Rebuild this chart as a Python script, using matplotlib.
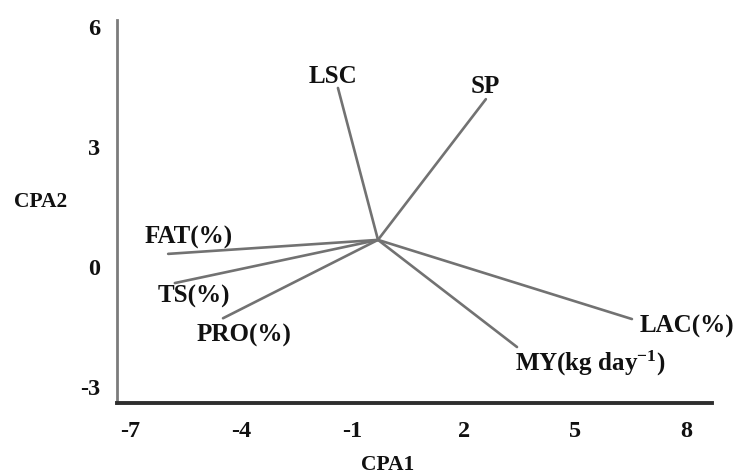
import matplotlib
matplotlib.use("Agg")
import matplotlib.pyplot as plt

# ---- data ----
variables = ["LSC", "SP", "FAT(%)", "TS(%)", "PRO(%)", "LAC(%)", "MY(kg day$^{\\mathrm{-1}}$)"]
cpa1_tip = [-1.39, 2.60, -5.97, -5.79, -4.49, 6.54, 3.44]
cpa2_tip = [4.48, 4.20, 0.33, -0.40, -1.28, -1.30, -2.00]
origin_cpa1 = -0.31
origin_cpa2 = 0.68
x_ticks = [-7, -4, -1, 2, 5, 8]
y_ticks = [-3, 0, 3, 6]

# ---- style / layout ----
plt.rcParams["font.family"] = ["Liberation Serif", "DejaVu Serif"]
plt.rcParams["font.weight"] = "bold"
plt.rcParams["mathtext.fontset"] = "custom"
plt.rcParams["mathtext.rm"] = "Liberation Serif:bold"
plt.rcParams["mathtext.it"] = "Liberation Serif:bold"
plt.rcParams["mathtext.bf"] = "Liberation Serif:bold"

fig = plt.figure(figsize=(7.38, 4.75), dpi=100)
ax = fig.add_axes([117 / 738, 1 - 403 / 475, 595 / 738, 383 / 475])

line_color = "#727272"
for xt, yt in zip(cpa1_tip, cpa2_tip):
    ax.plot([origin_cpa1, xt], [origin_cpa2, yt], color=line_color, lw=1.9,
            solid_capstyle="round")

# label offsets in points relative to tip (layout only)
offsets = [(-3.5, 8.5, "center"), (-0.5, 9, "center"), (14.5, 11.5, "center"),
           (13.5, -10, "center"), (15, -12.5, "center"), (5.5, -5, "left"),
           (-1.5, -11.5, "left")]
for name, xt, yt, (dx, dy, ha) in zip(variables, cpa1_tip, cpa2_tip, offsets):
    ax.annotate(name, (xt, yt), xytext=(dx, dy), textcoords="offset points",
                ha=ha, va="center", fontsize=18, fontweight="bold", color="#111111")

ax.set_xlim(-7.35, 8.70)
ax.set_ylim(-3.40, 6.18)
ax.set_xticks(x_ticks)
ax.set_yticks(y_ticks)
ax.set_xticklabels([str(v) for v in x_ticks])
ax.set_yticklabels([str(v) for v in y_ticks])
ax.tick_params(axis="both", length=0, labelsize=17.5, colors="#111111")
ax.tick_params(axis="x", pad=13)
ax.tick_params(axis="y", pad=12)
for lab in ax.get_xticklabels() + ax.get_yticklabels():
    lab.set_fontweight("bold")

for s in ["top", "right"]:
    ax.spines[s].set_visible(False)
ax.spines["left"].set_color("#7c7c7c")
ax.spines["left"].set_linewidth(2.0)
ax.spines["bottom"].set_color("#2e2e2e")
ax.spines["bottom"].set_linewidth(2.8)

ax.set_xlabel("CPA1", fontsize=15.5, fontweight="bold", color="#111111")
ax.set_ylabel("CPA2", fontsize=15.5, fontweight="bold", color="#111111", rotation=0)
ax.xaxis.set_label_coords((388 - 117) / 595, (403 - 465) / 383)
ax.yaxis.set_label_coords((41 - 117) / 595, (403 - 202) / 383)
ax.xaxis.label.set_va("center")
ax.yaxis.label.set_va("center")
ax.yaxis.label.set_ha("center")

fig.savefig("out.png", dpi=100, facecolor="white")
